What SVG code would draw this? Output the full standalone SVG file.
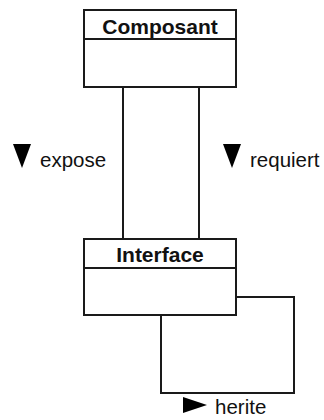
<svg xmlns="http://www.w3.org/2000/svg" width="324" height="420" viewBox="0 0 324 420">
<style>
.box{fill:#fff;stroke:#1a1a1a;stroke-width:2}
.ln{fill:none;stroke:#1a1a1a;stroke-width:2}
.t{font-family:"Liberation Sans",Arial,sans-serif;font-size:20.5px;fill:#111}
.tb{font-family:"Liberation Sans",Arial,sans-serif;font-size:21px;font-weight:bold;fill:#111;text-anchor:middle}
.tri{fill:#000}
</style>
<rect width="324" height="420" fill="#fff"/>
<g id="connectors">
<line class="ln" x1="123" y1="88" x2="123" y2="239"/>
<line class="ln" x1="199" y1="88" x2="199" y2="239"/>
<polyline class="ln" points="236,297 294,297 294,393 161,393 161,316"/>
<g id="label-expose"><polygon class="tri" points="13,144 31,144 22,168"/><text class="t" x="40" y="167">expose</text></g>
<g id="label-requiert"><polygon class="tri" points="223,144 241,144 232,168"/><text class="t" x="250" y="167">requiert</text></g>
<g id="label-herite"><polygon class="tri" points="183,397 207,405 183,413"/><text class="t" x="215" y="414">herite</text></g>
</g>
<g id="composant">
<rect class="box" x="84" y="10" width="152" height="77"/>
<line class="ln" x1="84" y1="39" x2="236" y2="39"/>
<text class="tb" x="160" y="34">Composant</text>
</g>
<g id="interface">
<rect class="box" x="84" y="239" width="152" height="76"/>
<line class="ln" x1="84" y1="268" x2="236" y2="268"/>
<text class="tb" x="160" y="262">Interface</text>
</g>
</svg>
